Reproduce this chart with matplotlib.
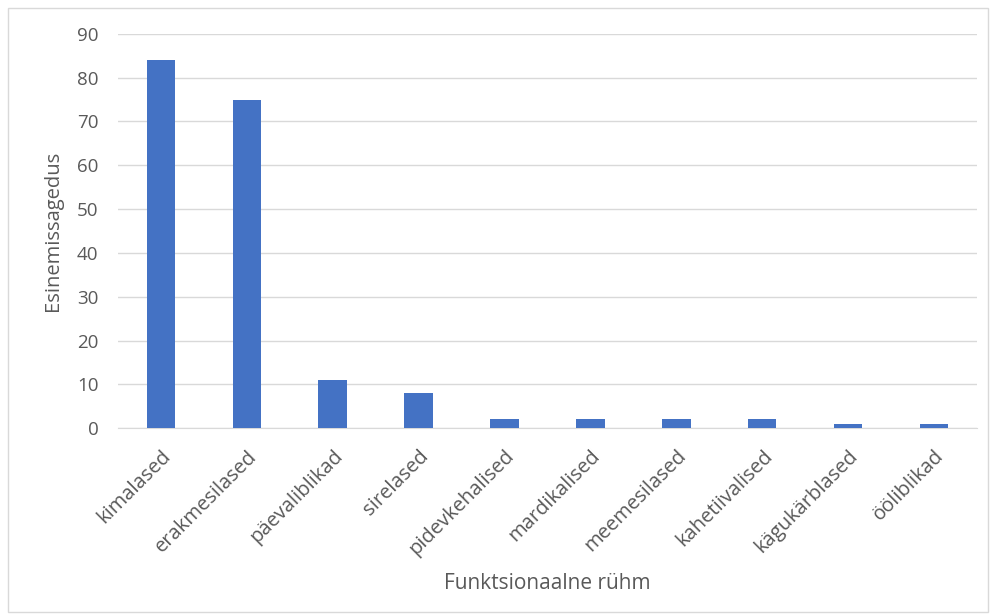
# Funktsionaalsete rühmade esinemissagedus - tulpdiagramm
import matplotlib.pyplot as plt
from matplotlib.patches import Rectangle

groups = ["kimalased", "erakmesilased", "päevaliblikad", "sirelased", "pidevkehalised",
          "mardikalised", "meemesilased", "kahetiivalised", "kägukärblased", "ööliblikad"]
counts = [84, 75, 11, 8, 2, 2, 2, 2, 1, 1]
yticks = [0, 10, 20, 30, 40, 50, 60, 70, 80, 90]

plt.rcParams['font.family'] = ['Open Sans', 'DejaVu Sans']
grey = "#595959"

fig = plt.figure(figsize=(9.9, 6.16), dpi=100)
ax = fig.add_axes([0.119, 0.305, 0.868, 0.640])

# chart border
fig.patches.append(Rectangle((8 / 990, 4 / 616), 980 / 990, 604 / 616, transform=fig.transFigure,
                             fill=False, edgecolor="#D9D9D9", linewidth=1))

x = range(len(groups))
ax.bar(x, counts, width=0.33, color="#4472C4", zorder=3)

ax.set_xlim(-0.5, len(groups) - 0.5)
ax.set_ylim(0, 90)
ax.set_yticks(yticks)
ax.grid(axis="y", color="#D9D9D9", linewidth=1, zorder=0)
ax.set_xticks(list(x))
ax.set_xticklabels(groups, rotation=45, ha="right", rotation_mode="anchor", fontsize=14.5, color=grey)
ax.tick_params(axis="y", labelsize=13.5, colors=grey, length=0, pad=14)
ax.tick_params(axis="x", length=0, pad=13)

for s in ["top", "right", "left"]:
    ax.spines[s].set_visible(False)
ax.spines["bottom"].set_color("#D9D9D9")

ax.set_ylabel("Esinemissagedus", fontsize=14.5, color=grey, labelpad=10)
ax.set_xlabel("Funktsionaalne rühm", fontsize=15, color=grey, labelpad=10)

plt.savefig("out.png", dpi=100)
